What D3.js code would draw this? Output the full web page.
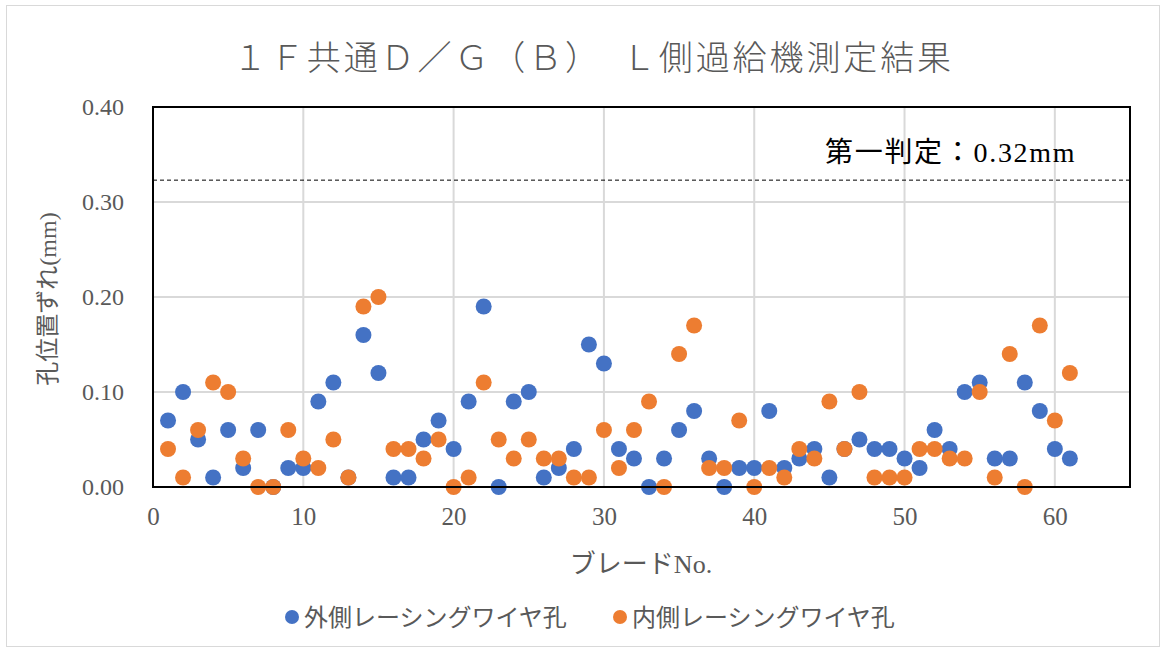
<!DOCTYPE html>
<html><head><meta charset="utf-8">
<script src="https://cdn.jsdelivr.net/npm/d3@7"></script>
<style>body{margin:0;background:#fff}svg{display:block}</style>
</head><body>
<script>
const blades = d3.range(1, 62);
const outerValues = [0.07,0.10,0.05,0.01,0.06,0.02,0.06,0.00,0.02,0.02,
0.09,0.11,0.01,0.16,0.12,0.01,0.01,0.05,0.07,0.04,
0.09,0.19,0.00,0.09,0.10,0.01,0.02,0.04,0.15,0.13,
0.04,0.03,0.00,0.03,0.06,0.08,0.03,0.00,0.02,0.02,
0.08,0.02,0.03,0.04,0.01,0.04,0.05,0.04,0.04,0.03,
0.02,0.06,0.04,0.10,0.11,0.03,0.03,0.11,0.08,0.04,0.03];
const innerValues = [0.04,0.01,0.06,0.11,0.10,0.03,0.00,0.00,0.06,0.03,
0.02,0.05,0.01,0.19,0.20,0.04,0.04,0.03,0.05,0.00,
0.01,0.11,0.05,0.03,0.05,0.03,0.03,0.01,0.01,0.06,
0.02,0.06,0.09,0.00,0.14,0.17,0.02,0.02,0.07,0.00,
0.02,0.01,0.04,0.03,0.09,0.04,0.10,0.01,0.01,0.01,
0.04,0.04,0.03,0.03,0.10,0.01,0.14,0.00,0.17,0.07,0.12];
const seriesNames = ["外側レーシングワイヤ孔","内側レーシングワイヤ孔"];
const seriesColors = ["#4472C4","#ED7D31"];
const xTicks = [0,10,20,30,40,50,60];
const yTicks = [0,0.1,0.2,0.3,0.4];
const thresholdValue = 0.323;
const thresholdLabel = "第一判定：0.32mm";
const titleText = "１Ｆ共通Ｄ／Ｇ（Ｂ）　Ｌ側過給機測定結果";
const xTitle = "ブレードNo.";
const yTitle = "孔位置ずれ(mm)";

const W = 1167, H = 654;
const m = {l:153, r:1130, t:107, b:487};
const svg = d3.select("body").append("svg").attr("width", W).attr("height", H);
svg.append("rect").attr("x",6.5).attr("y",5.5).attr("width",1153).attr("height",641)
  .attr("fill","#fff").attr("stroke","#d9d9d9");

const x = d3.scaleLinear().domain([0,65]).range([m.l, m.r]);
const y = d3.scaleLinear().domain([0,0.4]).range([m.b, m.t]);

const serif = "'Liberation Serif','Times New Roman',serif";
const mixed = "'Liberation Serif','Noto Sans CJK JP',serif";
const jp = "'Noto Sans CJK JP',sans-serif";

// gridlines
svg.append("g").selectAll("line").data(xTicks.filter(d=>d>0)).join("line")
  .attr("x1",d=>x(d)).attr("x2",d=>x(d)).attr("y1",m.t).attr("y2",m.b)
  .attr("stroke","#d9d9d9").attr("stroke-width",2);
svg.append("g").selectAll("line").data(yTicks.filter(d=>d>0&&d<0.4)).join("line")
  .attr("x1",m.l).attr("x2",m.r).attr("y1",d=>y(d)).attr("y2",d=>y(d))
  .attr("stroke","#d9d9d9").attr("stroke-width",2);

// axes labels via d3 axes
const xAxis = svg.append("g").attr("transform",`translate(0,${m.b})`)
  .call(d3.axisBottom(x).tickValues(xTicks).tickSize(0).tickPadding(20).tickFormat(d3.format("d")));
xAxis.select(".domain").remove();
xAxis.selectAll("text").attr("font-family",serif).attr("font-size",25).attr("fill","#595959");
const yAxis = svg.append("g").attr("transform",`translate(${m.l},0)`)
  .call(d3.axisLeft(y).tickValues(yTicks).tickSize(0).tickPadding(29).tickFormat(d3.format(".2f")));
yAxis.select(".domain").remove();
yAxis.selectAll("text").attr("font-family",serif).attr("font-size",24).attr("fill","#595959");

// threshold
svg.append("line").attr("x1",m.l).attr("x2",m.r).attr("y1",y(thresholdValue)).attr("y2",y(thresholdValue))
  .attr("stroke","#000").attr("stroke-width",1).attr("stroke-dasharray","4,3");
svg.append("text").attr("x",825).attr("y",162).text(thresholdLabel)
  .attr("font-family",mixed).attr("font-size",28).attr("letter-spacing",1.7).attr("fill","#000");

// points
const series = [outerValues, innerValues];
series.forEach((vals,i)=>{
  svg.append("g").selectAll("circle").data(vals).join("circle")
    .attr("cx",(d,j)=>x(blades[j])).attr("cy",d=>y(d)).attr("r",8)
    .attr("fill",seriesColors[i]);
});

// plot border
svg.append("rect").attr("x",m.l).attr("y",m.t).attr("width",m.r-m.l).attr("height",m.b-m.t)
  .attr("fill","none").attr("stroke","#000").attr("stroke-width",2);

// titles
svg.append("text").attr("x",233).attr("y",70).text(titleText)
  .attr("font-family",jp).attr("font-size",34).attr("letter-spacing",2.9).attr("font-weight",300).attr("fill","#595959");
svg.append("text").attr("x",641).attr("y",573).attr("text-anchor","middle").text(xTitle)
  .attr("font-family",mixed).attr("font-size",26).attr("fill","#595959");
svg.append("text").attr("transform","translate(56,299) rotate(-90)").attr("text-anchor","middle").text(yTitle)
  .attr("font-family",mixed).attr("font-size",24).attr("fill","#595959");

// legend
const legendX = [292, 620];
seriesNames.forEach((n,i)=>{
  svg.append("circle").attr("cx",legendX[i]).attr("cy",617).attr("r",7).attr("fill",seriesColors[i]);
  svg.append("text").attr("x",legendX[i]+12).attr("y",626).text(n)
    .attr("font-family",jp).attr("font-size",24).attr("fill","#595959");
});
</script>
</body></html>
